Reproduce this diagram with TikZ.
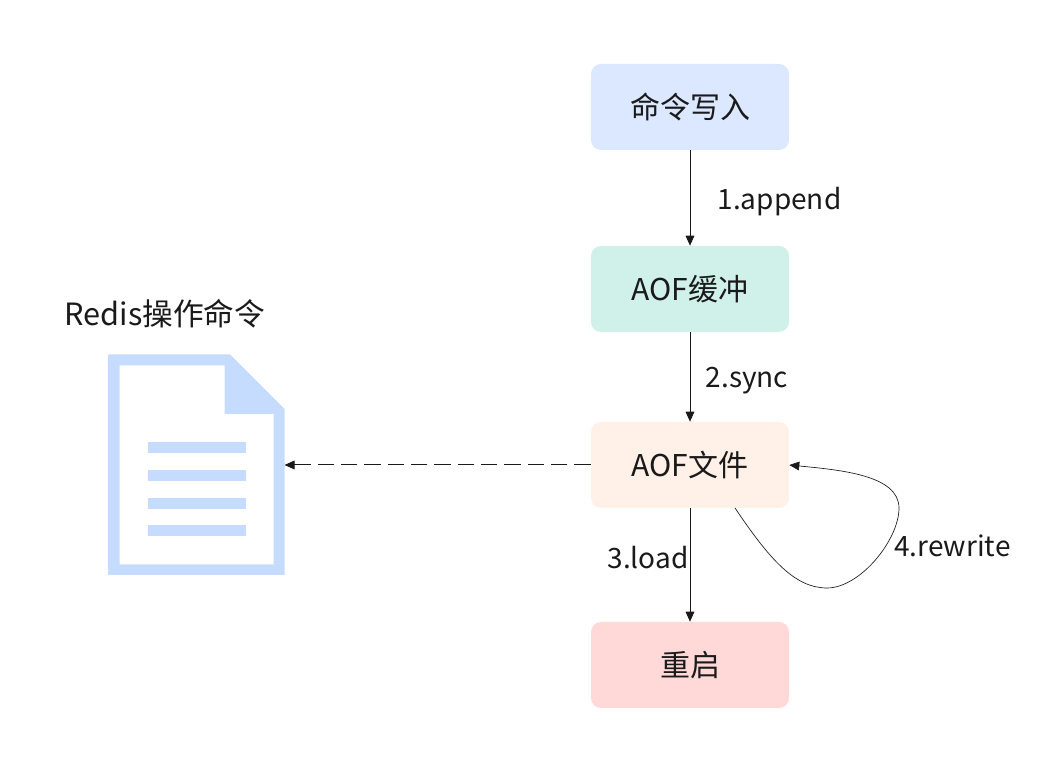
\documentclass[tikz,border=0pt]{standalone}
\usepackage{fontspec}
\usetikzlibrary{arrows.meta}
\setmainfont{Noto Sans CJK SC}
\definecolor{cmdblue}{HTML}{DCE8FF}
\definecolor{bufgreen}{HTML}{CFF1E9}
\definecolor{filepeach}{HTML}{FFF0E8}
\definecolor{restartpink}{HTML}{FFD8D8}
\definecolor{docblue}{HTML}{C6DCFF}
\definecolor{ink}{HTML}{1A1A1A}
\begin{document}
\begin{tikzpicture}[x=0.75pt,y=0.75pt]
	\tikzset{s/.style={rectangle,rounded corners=7.5pt,minimum width=148.5pt,minimum height=64.5pt,inner sep=0pt,text=ink,font=\fontsize{22.5}{26}\selectfont},
		l/.style={text=ink,inner sep=0pt,font=\fontsize{21}{25}\selectfont},
		a/.style={draw=ink,line width=0.75pt,-{Triangle[length=7.5pt,width=6.5pt]}}}
	\useasboundingbox(0,0)rectangle(1042,774);
	\path(690,667)node[s,fill=cmdblue](cmd){命令写入}++(0,-182)node[s,fill=bufgreen](buf){AOF缓冲}++(0,-176)node[s,fill=filepeach](aof){AOF文件}++(0,-200)node[s,fill=restartpink](boot){重启};
	\foreach \x/\y in {
		cmd/buf,
		buf/aof,
		aof/boot}
	\draw[a](\x.south)--(\y.north);
	% file icon
	\node[minimum width=132pt,minimum height=165.75pt,inner sep=0pt](doc) at (196.25,309){};
	\fill[docblue,even odd rule](108,199)--(108,419.5)--(230,419.5)--(284.5,365)--(284.5,199)--cycle
		(119.5,209.5)--(273.5,209.5)--(273.5,360)--(224.5,360)--(224.5,408.5)--(119.5,408.5)--cycle;
	\foreach \y in {321,293,265,238}
	\fill[docblue](147.5,\y)rectangle(245.5,\y+11);
	\draw[a,dash pattern=on 12.4pt off 5.1pt](aof.west)--(doc.east|-aof.west);
	\draw[draw=ink,line width=0.5pt,-{Triangle[length=7.5pt,width=6.5pt]}](735,266).. controls (770,214) and (795,186) .. (827,186).. controls (860,186) and (899,234) .. (899,266).. controls (899,299) and (840,304) .. (aof.east);
	\path(779.5,572)node[l](l1){1.append}(747,393)node[l](l2){2.sync}(648,216)node[l](l3){3.load}(952.5,228)node[l](l4){4.rewrite}(165,460)node[l,font=\fontsize{23}{27}\selectfont](title){Redis操作命令};
\end{tikzpicture}
\end{document}
